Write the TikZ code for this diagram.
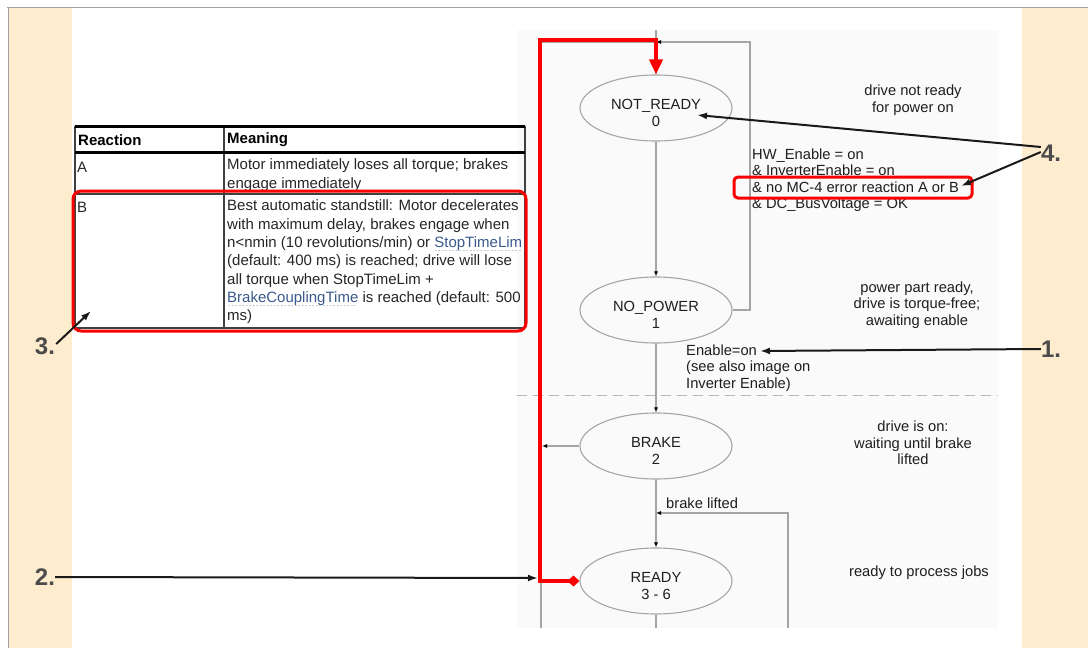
\documentclass[tikz,border=0pt]{standalone}
\usepackage{fontspec}
\setmainfont{Liberation Sans}
\usetikzlibrary{arrows.meta,shapes.geometric}
\definecolor{beige}{RGB}{253,236,206}
\definecolor{framegray}{RGB}{160,160,160}
\definecolor{diagbg}{RGB}{250,250,250}
\definecolor{glinec}{RGB}{165,165,165}
\definecolor{textdark}{RGB}{30,30,30}
\definecolor{lblgray}{RGB}{75,75,75}
\definecolor{linkblue}{RGB}{59,90,140}
\definecolor{redc}{RGB}{250,0,0}
\newsavebox\lnkbox
\newcommand\lnkword[1]{\sbox\lnkbox{\textcolor{linkblue}{#1}}\rlap{\color{gray!40}\raisebox{-3.5pt}{\hbox to \wd\lnkbox{\cleaders\hbox{\rule{2pt}{0.7pt}\hspace{1.5pt}}\hfill}}}\usebox\lnkbox}
\newcommand\elltext[2]{\raisebox{-6.5pt}[\height][\depth]{\begin{tabular}{@{}c@{}}#1\\#2\end{tabular}}}
\tikzset{
  gline/.style={draw=glinec, line width=1.1pt, -{Latex[length=5pt,width=4pt,black]}},
  gplain/.style={draw=glinec, line width=1.1pt},
  redline/.style={draw=redc, line width=4pt},
  annot/.style={draw=black!90, line width=2pt, -{Latex[length=10pt,width=7pt]}},
  ell/.style={ellipse, draw=glinec, line width=1.1pt, fill=diagbg, minimum width=152pt, minimum height=66pt, inner sep=0pt, align=center, text=textdark, font=\fontsize{14.7}{16.8}\selectfont},
  dtext/.style={inner sep=0pt, text=textdark, font=\fontsize{14.7}{16.5}\selectfont},
  ttext/.style={inner sep=0pt, text=black!85, align=left, font=\fontsize{15}{18.3}\selectfont},
  thead/.style={inner sep=0pt, text=black, font=\fontsize{15}{18}\selectfont\bfseries},
  numlbl/.style={inner sep=0pt, text=lblgray, font=\fontsize{24}{26}\selectfont\bfseries},
  tline/.style={draw=black!75, line width=1.2pt},
  tthick/.style={draw=black, line width=3pt},
  redbox/.style={draw=redc, line width=3pt}
}
\begin{document}
\begin{tikzpicture}[x=1pt,y=-1pt]
\useasboundingbox (0,0) rectangle (1088,648);
\fill[white] (0,0) rectangle (1088,648);
% side strips and frame
\fill[beige] (8,7) rectangle (72,648);
\fill[beige] (1022,7) rectangle (1088,648);
\draw[framegray, line width=1pt] (7,7) -- (1088,7);
\draw[framegray, line width=1pt] (8,7) -- (8,648);
% diagram background
\fill[diagbg] (517,30) rectangle (998,628);
\draw[gray!55, line width=1pt, dash pattern=on 10pt off 6pt] (517,395) -- (998,395);

% state nodes
\node[ell] (nr) at (656,108) {\elltext{NOT\_READY}{0}};
\node[ell] (np) at (656,310) {\elltext{NO\_POWER}{1}};
\node[ell] (br) at (656,446) {\elltext{BRAKE}{2}};
\node[ell] (rd) at (656,581) {\elltext{READY}{3 - 6}};

% coordinates
\coordinate (topIn) at (656,30);
\coordinate (topJ) at (656,42);
\coordinate (loopR) at (750,42);
\coordinate (lTop) at (541,42);
\coordinate (lBot) at (541,628);
\coordinate (brL) at (542,446);
\coordinate (blB) at (788,628);
\coordinate (blJ) at (656,513);
\coordinate (rdB) at (656,628);
\coordinate (rtop) at (540,40);
\coordinate (rbot) at (540,581);

% gray connectors
\draw[gplain] (lTop) -- (lBot);
\draw[gplain] (lTop) -- (topJ);
\draw[gline] (topIn) -- (nr.north);
\draw[gline] (nr.south) -- (np.north);
\draw[gline] (np.south) -- (br.north);
\draw[gline] (br.south) -- (rd.north);
\draw[gplain] (rd.south) -- (rdB);
\draw[gline] (np.east) -| (loopR) -- (topJ);
\draw[gline] (br.west) -- (brL);
\draw[gline] (blB) |- (blJ);

% red path
\draw[redline, {Diamond[length=12pt,width=11pt]}-{Triangle[length=15pt,width=13pt]}] (rd.west) -- (rbot) -- (rtop) -| (nr.north);

% diagram texts
\node[dtext, align=center] (t0) at (913,100) {drive not ready\\for power on};
\node[dtext, align=left, anchor=west] (cond) at (752,180) {HW\_Enable = on\\\& InverterEnable = on\\\& no MC-4 error reaction A or B\\\& DC\_BusVoltage = OK};
\node[dtext, align=center] (t1) at (917,305) {power part ready,\\drive is torque-free;\\awaiting enable};
\node[dtext, align=left, anchor=west] (en) at (686,368) {Enable=on\\(see also image on\\Inverter Enable)};
\node[dtext, align=center] (t2) at (913,443) {drive is on:\\waiting until brake\\lifted};
\node[dtext, anchor=west] (bl) at (666,503) {brake lifted};
\node[dtext] (t3) at (919,573) {ready to process jobs};

% red box around condition
\draw[redbox, rounded corners=4pt] (734,177) rectangle (972,198);

% table
\draw[tline] (75,126) -- (75,328);
\draw[tline] (525,126) -- (525,328);
\draw[tline] (224,126) -- (224,328);
\draw[tline] (75,194) -- (525,194);
\draw[tline] (75,328) -- (525,328);
\draw[tthick] (75,126) -- (525,126);
\draw[tthick] (75,152) -- (525,152);
\node[thead, anchor=west] (h1) at (78,140) {Reaction};
\node[thead, anchor=west] (h2) at (227,140) {Meaning};
\node[ttext, anchor=west] (ra) at (77,167) {A};
\node[ttext, anchor=west] (ma) at (227,175) {Motor immediately loses all torque; brakes\\engage immediately};
\node[ttext, anchor=west] (rb) at (77,207) {B};
\node[ttext, anchor=west] (mb) at (227,262) {Best automatic standstill: Motor decelerates\\with maximum delay, brakes engage when\\n<nmin (10 revolutions/min) or \lnkword{StopTimeLim}\\(default: 400 ms) is reached; drive will lose\\all torque when StopTimeLim +\\\lnkword{BrakeCouplingTime} is reached (default: 500\\ms)};
\draw[redbox, rounded corners=8pt] (73,191) rectangle (526,331);

% annotation labels
\node[numlbl] (n4) at (1051,153) {4.};
\node[numlbl] (n1) at (1051,349) {1.};
\node[numlbl] (n3) at (45,346) {3.};
\node[numlbl] (n2) at (45,577) {2.};
\coordinate (a4a) at (697,115);
\coordinate (a4b) at (961,186);
\coordinate (a1) at (760,351);
\coordinate (a2) at (538,578);
\coordinate (a3) at (91,311);
\draw[annot] ([yshift=6pt]n4.west) -- (a4a);
\draw[annot] ([yshift=1pt]n4.west) -- (a4b);
\draw[annot] (n1.west) -- (a1);
\draw[annot] (n2.east) -- (a2);
\draw[annot] ([xshift=1pt,yshift=2pt]n3.east) -- (a3);
\end{tikzpicture}
\end{document}
